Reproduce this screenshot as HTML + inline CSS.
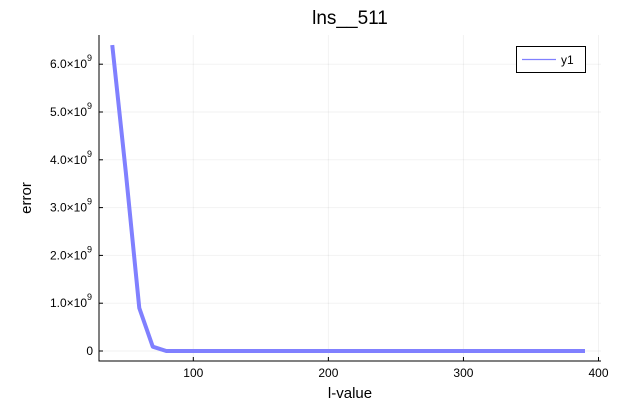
<!DOCTYPE html>
<html><head><meta charset="utf-8"><style>
body{margin:0;background:#fff}
svg{display:block;font-family:"Liberation Sans","DejaVu Sans",sans-serif}
</style></head><body>
<svg id="chart" width="631" height="410">
<text x="350" y="24" font-size="19" text-anchor="middle" fill="#000">lns__511</text>
<g id="grid"></g>
<g id="axes"></g>
<g id="series"></g>
<text x="350" y="398" font-size="15" text-anchor="middle">l-value</text>
<text transform="translate(31,198) rotate(-90)" font-size="15" text-anchor="middle">error</text>
<g>
<rect x="516.5" y="46.5" width="69" height="26" fill="#fff" stroke="#000" stroke-width="1"/>
<line x1="522" y1="59.5" x2="556" y2="59.5" stroke="#8080ff" stroke-width="1.2"/>
<text x="561" y="64" font-size="12">y1</text>
</g>
</svg>
<script>
const xValues=[40,50,60,70,80,90,100,110,120,130,140,150,160,170,180,190,200,210,220,230,240,250,260,270,280,290,300,310,320,330,340,350,360,370,380,390];
const yValues=[6.4e9,3.75e9,0.9e9,0.09e9,0,0,0,0,0,0,0,0,0,0,0,0,0,0,0,0,0,0,0,0,0,0,0,0,0,0,0,0,0,0,0,0];
const xTicks=[100,200,300,400];
const yTicks=[0,1e9,2e9,3e9,4e9,5e9,6e9];
const yTickLabels=["0","1.0×10","2.0×10","3.0×10","4.0×10","5.0×10","6.0×10"];
const NS="http://www.w3.org/2000/svg";
const L=99,R=601,T=35,B=361;
function sx(v){return 193.3+(v-100)*1.3507;}
function sy(v){return 351-v/1e9*47.8;}
function mk(t,a,p){const e=document.createElementNS(NS,t);for(const k in a)e.setAttribute(k,a[k]);p.appendChild(e);return e;}
const grid=document.getElementById('grid'),axes=document.getElementById('axes'),series=document.getElementById('series');
xTicks.forEach(v=>{
 const g=mk('line',{x1:sx(v),x2:sx(v),y1:T,y2:B,stroke:'#000','stroke-opacity':0.05},grid);
 
 
 const t=mk('line',{x1:sx(v),x2:sx(v),y1:B,y2:B-4,stroke:'#000'},axes);
 
 
 const l=mk('text',{x:sx(v),y:B+16,'font-size':12,'text-anchor':'middle'},axes);
 l.textContent=v;
 
 
});
yTicks.forEach((v,i)=>{
 const g=mk('line',{x1:L,x2:R,y1:sy(v),y2:sy(v),stroke:'#000','stroke-opacity':0.05},grid);
 
 
 const t=mk('line',{x1:L,x2:L+4,y1:sy(v),y2:sy(v),stroke:'#000'},axes);
 
 
 const l=mk('text',{x:i===0?93:87,y:sy(v)+4,'font-size':12,'text-anchor':'end'},axes);
 l.textContent=yTickLabels[i];
 
 
 if(i>0){const s=mk('text',{x:87,y:sy(v)-3,'font-size':9},axes);s.textContent='9';
 
 }
});
const ax=mk('path',{d:`M${L},${T}V${B}H${R}`,stroke:'#000',fill:'none','stroke-width':1},axes);


const line=mk('polyline',{points:xValues.map((x,i)=>sx(x)+','+sy(yValues[i])).join(' '),fill:'none',stroke:'#8080ff','stroke-width':4,'stroke-linejoin':'round'},series);


</script>
</body></html>
